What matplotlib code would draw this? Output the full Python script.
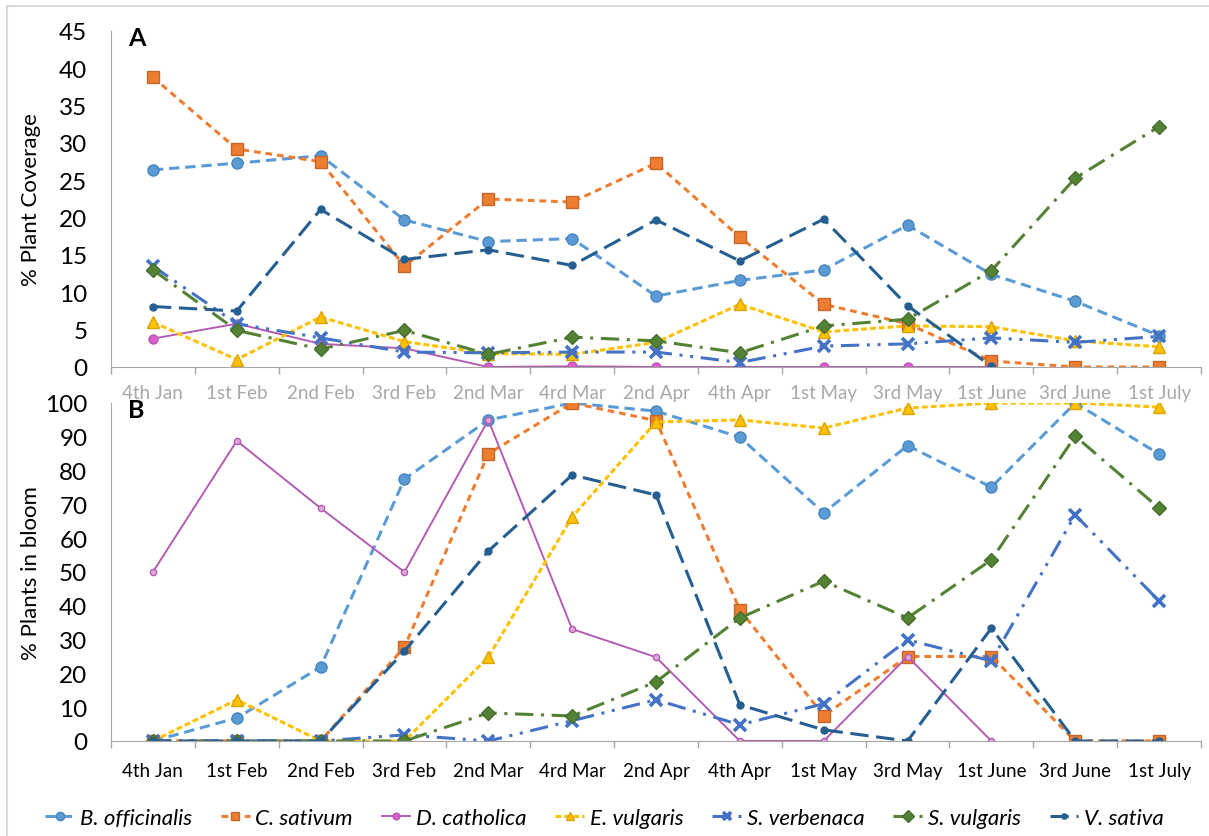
import numpy as np
import matplotlib.pyplot as plt
from matplotlib.lines import Line2D

plt.rcParams['font.family'] = ['Lato', 'DejaVu Sans']

dates = ["4th Jan", "1st Feb", "2nd Feb", "3rd Feb", "2nd Mar", "4rd Mar", "2nd Apr",
         "4th Apr", "1st May", "3rd May", "1st June", "3rd June", "1st July"]
species = ["B. officinalis", "C. sativum", "D. catholica", "E. vulgaris",
           "S. verbenaca", "S. vulgaris", "V. sativa"]

nan = np.nan

# A: % plant coverage
cover_bo = [26.4, 27.3, 28.3, 19.7, 16.8, 17.2, 9.5, 11.6, 13.0, 19.0, 12.4, 8.8, 4.2]
cover_cs = [38.8, 29.2, 27.5, 13.5, 22.5, 22.1, 27.3, 17.4, 8.4, 5.8, 0.8, 0, 0]
cover_dc = [3.8, 5.8, 3.1, 2.5, 0, 0.1, 0, 0, 0, 0, 0, nan, nan]
cover_ev = [6.0, 1.0, 6.7, 3.4, 1.8, 1.7, 3.3, 8.4, 4.7, 5.5, 5.4, 3.5, 2.7]
cover_sve = [13.5, 5.8, 3.9, 2.0, 1.9, 2.0, 2.0, 0.6, 2.8, 3.1, 3.9, 3.3, 4.1]
cover_svu = [13.0, 4.9, 2.4, 4.9, 1.7, 4.0, 3.5, 1.9, 5.5, 6.4, 12.9, 25.3, 32.2]
cover_vs = [8.1, 7.5, 21.1, 14.4, 15.7, 13.6, 19.7, 14.2, 19.8, 8.2, 0.1, nan, nan]

# B: % plants in bloom
bloom_bo = [0, 6.8, 21.9, 77.5, 95.0, 100, 97.6, 89.9, 67.5, 87.4, 75.1, 100, 84.9]
bloom_cs = [0, 0, 0, 27.8, 85.0, 100, 94.8, 38.8, 7.5, 25.0, 25.0, 0, 0]
bloom_dc = [50.0, 88.8, 68.9, 50.0, 95.0, 33.1, 24.8, 0, 0, 25.0, 0, nan, nan]
bloom_ev = [0, 12.2, 0, 0, 24.8, 66.3, 94.4, 95.0, 92.6, 98.5, 100, 100, 98.8]
bloom_sve = [0, 0, 0, 1.8, 0, 6.0, 12.2, 4.8, 11.0, 29.9, 23.7, 66.9, 41.4]
bloom_svu = [0, 0, 0, 0, 8.3, 7.4, 17.5, 36.4, 47.3, 36.4, 53.6, 90.2, 68.9]
bloom_vs = [0, 0, 0, 26.6, 56.2, 78.7, 72.8, 10.7, 3.3, 0, 33.4, 0, 0]

# line / marker look of each species (Excel office colours)
styles = [
    dict(color="#5B9BD5", ls=(0, (3.4, 1.9)), lw=2.2, marker="o", ms=8, mfc="#5B9BD5", mec="#4A86BE"),
    dict(color="#ED7D31", ls=(0, (2.2, 1.6)), lw=2.2, marker="s", ms=8, mfc="#ED7D31", mec="#C8662A"),
    dict(color="#B45CB4", ls="-", lw=1.4, marker="o", ms=6.5, mfc="#E05ACB", mec="#B45CB4"),
    dict(color="#FFC000", ls=(0, (1.9, 1.0)), lw=2.2, marker="^", ms=8.5, mfc="#FFC000", mec="#D9A300"),
    dict(color="#4472C4", ls=(0, (6, 2.5, 1, 2.5, 1, 2.5)), lw=2.2, marker="x", ms=8.5, mew=2.6, mfc="#4472C4", mec="#4472C4"),
    dict(color="#548235", ls=(0, (6, 2.5, 1, 2.5)), lw=2.2, marker="D", ms=7.5, mfc="#548235", mec="#476E2D"),
    dict(color="#255E91", ls=(0, (6, 2.5)), lw=2.2, marker="o", ms=5, mfc="#255E91", mec="#255E91"),
]

cover = [cover_bo, cover_cs, cover_dc, cover_ev, cover_sve, cover_svu, cover_vs]
bloom = [bloom_bo, bloom_cs, bloom_dc, bloom_ev, bloom_sve, bloom_svu, bloom_vs]

W, H = 1209, 837
fig = plt.figure(figsize=(W / 100, H / 100), dpi=100)
ax1 = fig.add_axes([111 / W, 1 - 368 / H, 1090 / W, 336 / H])
ax2 = fig.add_axes([111 / W, 1 - 742 / H, 1090 / W, 338 / H])

x = np.arange(len(dates))

for ax, data, panel in [(ax1, cover, "A"), (ax2, bloom, "B")]:
    for vals, st in zip(data, styles):
        st = dict(st)
        if panel == "B" and st["mfc"] == "#E05ACB":
            # D. catholica has small pale markers in panel B
            st["ms"] = 4.5
            st["mfc"] = "#E3A6DA"
        ax.plot(x, vals, **st)

    ax.set_xlim(-0.5, len(dates) - 0.5)
    ax.set_xticks(np.arange(-0.5, len(dates), 1))
    ax.set_xticklabels([])
    ax.set_xticks(x, minor=True)
    ax.set_xticklabels(dates, minor=True)
    ax.tick_params(axis="x", which="major", length=5, color="#A6A6A6", width=1)
    ax.tick_params(axis="x", which="minor", length=0, pad=15, labelsize=13.5)
    ax.tick_params(axis="y", length=0, pad=17, labelsize=17.5)
    for s in ["top", "right"]:
        ax.spines[s].set_visible(False)
    for s in ["left", "bottom"]:
        ax.spines[s].set_color("#A6A6A6")
    ax.text(0.016, 1.015, panel, transform=ax.transAxes, fontsize=18,
            fontweight="bold", va="top", ha="left")

ax1.set_ylim(0, 45)
ax1.set_yticks(range(0, 46, 5))
ax1.tick_params(axis="x", which="minor", labelcolor="#A8A8A8", pad=12)
ax1.set_ylabel("% Plant Coverage", fontsize=16, va="center")
ax1.yaxis.set_label_coords(-80 / 1090, 0.5)

ax2.set_ylim(0, 100)
ax2.set_yticks(range(0, 101, 10))
ax2.set_ylabel("% Plants in bloom", fontsize=16, va="center")
ax2.yaxis.set_label_coords(-80 / 1090, 0.5)

handles = [Line2D([], [], **st) for st in styles]
fig.legend(handles, species, loc="center", bbox_to_anchor=(0.5, 1 - 819 / H), ncol=7,
           frameon=False, prop=dict(style="italic", size=16), handlelength=1.3,
           handletextpad=0.25, columnspacing=1.3, markerscale=0.75)

# light chart frame like the original
fig.add_artist(Line2D([7 / W, 7 / W], [0, 1 - 7 / H], color="#D9D9D9", lw=1.5))
fig.add_artist(Line2D([7 / W, 1], [1 - 7 / H, 1 - 7 / H], color="#D9D9D9", lw=1.5))

fig.savefig("out.png", dpi=100)
